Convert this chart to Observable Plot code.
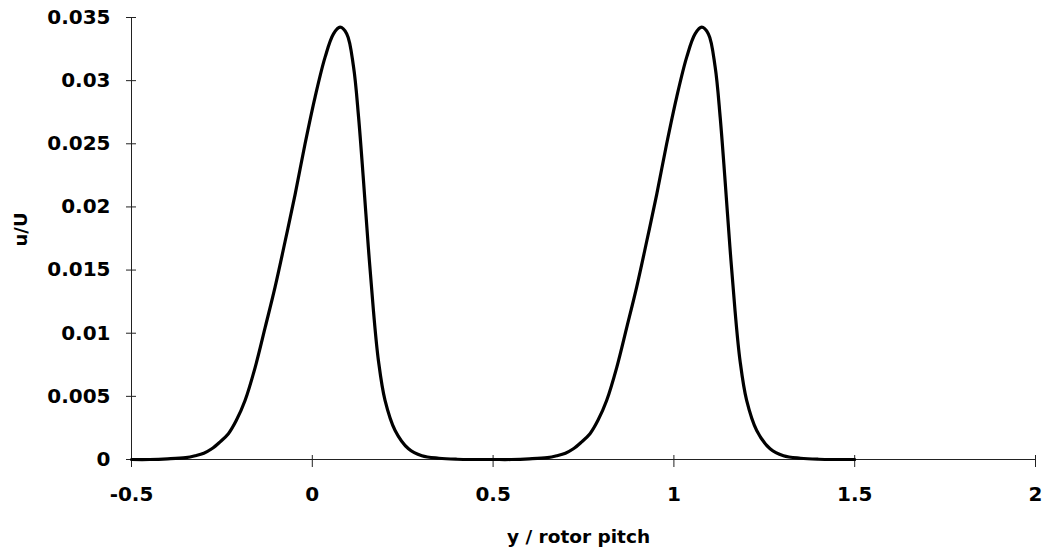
<!DOCTYPE html>
<html>
<head>
<meta charset="utf-8">
<script src="https://cdn.jsdelivr.net/npm/d3@7"></script>
<script src="https://cdn.jsdelivr.net/npm/@observablehq/plot@0.6"></script>
<style>
  html, body { margin: 0; padding: 0; background: #fff; }
  #chart svg { display: block; }
</style>
</head>
<body>
<div id="chart"></div>
<script>
// y / rotor pitch positions
const pitchPos = [
  -0.5, -0.45, -0.4, -0.35, -0.324, -0.3, -0.278, -0.255, -0.232, -0.21,
  -0.186, -0.158, -0.13, -0.103, -0.075, -0.0475, -0.02, 0.0077, 0.0354, 0.0586,
  0.0768, 0.0954, 0.114, 0.128, 0.1415, 0.155, 0.169, 0.183, 0.201, 0.229,
  0.266, 0.303, 0.35, 0.4, 0.45, 0.5,
  0.55, 0.6, 0.65, 0.676, 0.7, 0.722, 0.745, 0.768, 0.79,
  0.814, 0.842, 0.87, 0.897, 0.925, 0.9525, 0.98, 1.0077, 1.0354, 1.0586,
  1.0768, 1.0954, 1.114, 1.128, 1.1415, 1.155, 1.169, 1.183, 1.201, 1.229,
  1.266, 1.303, 1.35, 1.4, 1.45, 1.5
];
// u/U values
const uU = [
  0, 0, 0.00005, 0.00015, 0.0003, 0.0005, 0.00085, 0.0014, 0.00204, 0.0031,
  0.00467, 0.0073, 0.0105, 0.01365, 0.0173, 0.021, 0.025, 0.0287, 0.03186, 0.0337,
  0.03423, 0.0337, 0.0311, 0.0271, 0.0221, 0.0168, 0.0118, 0.0078, 0.0047, 0.0023,
  0.00085, 0.0003, 0.0001, 0.00002, 0, 0,
  0, 0.00005, 0.00015, 0.0003, 0.0005, 0.00085, 0.0014, 0.00204, 0.0031,
  0.00467, 0.0073, 0.0105, 0.01365, 0.0173, 0.021, 0.025, 0.0287, 0.03186, 0.0337,
  0.03423, 0.0337, 0.0311, 0.0271, 0.0221, 0.0168, 0.0118, 0.0078, 0.0047, 0.0023,
  0.00085, 0.0003, 0.0001, 0.00002, 0, 0
];
const xTicks = [-0.5, 0, 0.5, 1, 1.5, 2];
const xTickLabels = ["-0.5", "0", "0.5", "1", "1.5", "2"];
const yTicks = [0, 0.005, 0.01, 0.015, 0.02, 0.025, 0.03, 0.035];
const yTickLabels = ["0", "0.005", "0.01", "0.015", "0.02", "0.025", "0.03", "0.035"];
const xTitle = "y / rotor pitch";
const yTitle = "u/U";

const data = pitchPos.map((p, i) => ({p, u: uU[i]}));
const xLab = d => xTickLabels[xTicks.indexOf(d)];
const yLab = d => yTickLabels[yTicks.indexOf(d)];

const chart = Plot.plot({
  width: 1047,
  height: 554,
  marginLeft: 131,
  marginRight: 12,
  marginTop: 17,
  marginBottom: 95,
  style: {fontFamily: "'DejaVu Sans', sans-serif", fontWeight: "bold", fontSize: "20px", color: "#000", background: "#fff"},
  x: {domain: [-0.5, 2]},
  y: {domain: [0, 0.035]},
  marks: [
    Plot.ruleX([-0.5], {stroke: "#222", strokeWidth: 1}),
    Plot.ruleY([0], {stroke: "#222", strokeWidth: 1}),
    // crossing tick marks
    Plot.axisY({ticks: yTicks, tickSize: 10, dx: 5, tickFormat: () => "", stroke: "#222", label: null}),
    Plot.axisX({ticks: xTicks, tickSize: 12, dy: -4, tickFormat: () => "", stroke: "#222", label: null}),
    // tick labels
    Plot.axisY({ticks: yTicks, tickSize: 0, tickPadding: 21, tickFormat: yLab, label: null, fontSize: 20, fontWeight: "bold"}),
    Plot.axisX({ticks: xTicks, tickSize: 0, tickPadding: 27, tickFormat: xLab, label: null, fontSize: 20, fontWeight: "bold"}),
    Plot.lineY(data, {x: "p", y: "u", stroke: "#000", strokeWidth: 3.2, curve: "catmull-rom"}),
    Plot.text([xTitle], {frameAnchor: "bottom", dx: -5, dy: 83, fontSize: 18.5, fontWeight: "bold", fill: "#000"}),
    Plot.text([yTitle], {frameAnchor: "left", rotate: -90, dx: -110, dy: 8, fontSize: 18, fontWeight: "bold", fill: "#000"})
  ]
});
document.getElementById("chart").appendChild(chart);
</script>
</body>
</html>
